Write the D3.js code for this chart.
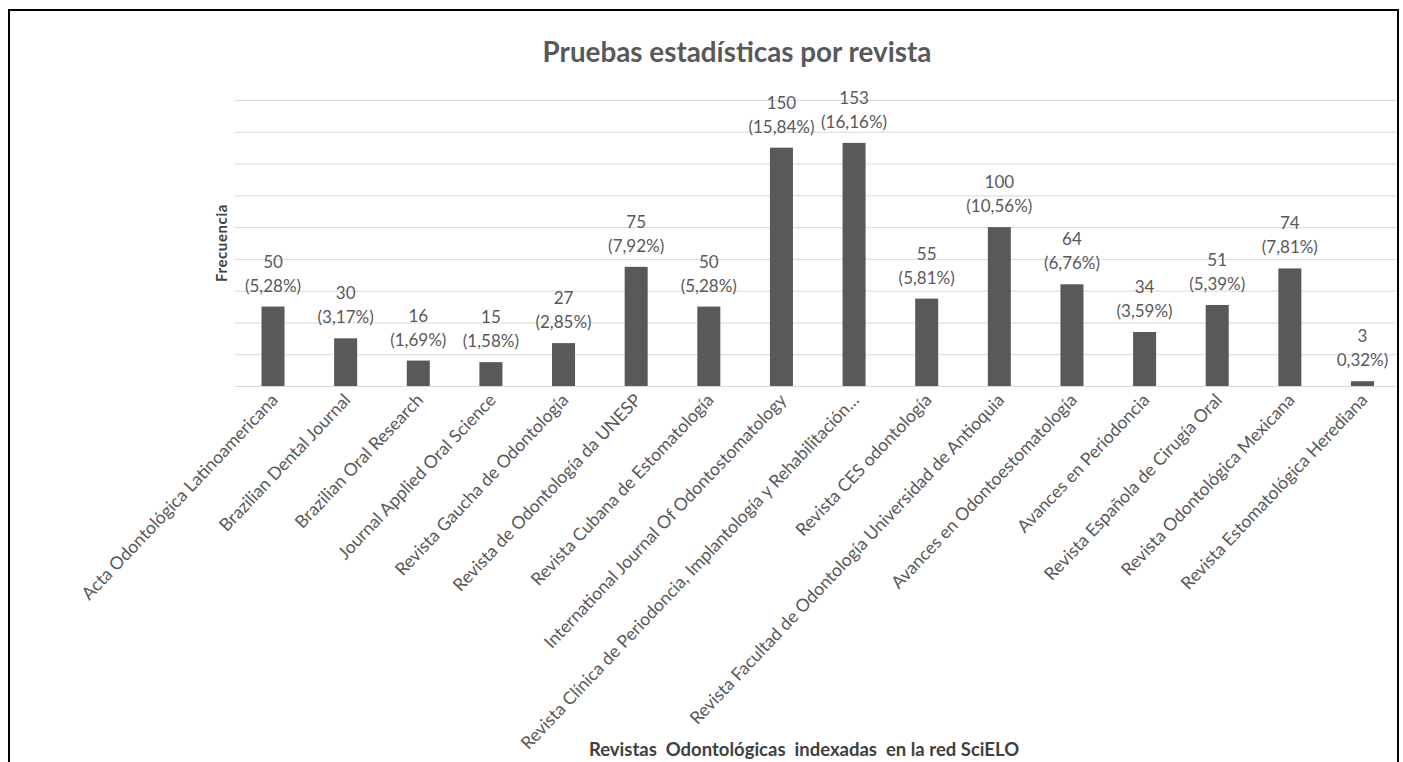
<!DOCTYPE html>
<html lang="es">
<head>
    <meta charset="UTF-8">
    <title>Pruebas estadísticas por revista</title>
    <script src="https://cdn.jsdelivr.net/npm/d3@7/dist/d3.min.js"></script>
    <style>
        body { margin: 0; background: #fff; }
        svg { display: block; font-family: Lato, "Open Sans", sans-serif; }
        .grid line { stroke: #d9d9d9; stroke-width: 1px; }
        .grid .domain { display: none; }
        .x-labels text { fill: #595959; font-size: 17.6px; }
        .bar { fill: #595959; }
        .val { fill: #595959; font-size: 17px; }
    </style>
</head>
<body>
    <svg width=1403 height=762></svg>
    <script>
        var revistas = [
            'Acta Odontológica Latinoamericana',
            'Brazilian Dental Journal',
            'Brazilian Oral Research',
            'Journal Applied Oral Science',
            'Revista Gaucha de Odontología',
            'Revista de Odontología da UNESP',
            'Revista Cubana de Estomatología',
            'International Journal Of Odontostomatology',
            'Revista Clínica de Periodoncia, Implantología y Rehabilitación…',
            'Revista CES odontología',
            'Revista Facultad de Odontología Universidad de Antioquia',
            'Avances en Odontoestomatología',
            'Avances en Periodoncia',
            'Revista Española de Cirugía Oral',
            'Revista Odontológica Mexicana',
            'Revista Estomatológica Herediana'
        ];
        var frecuencias = [50, 30, 16, 15, 27, 75, 50, 150, 153, 55, 100, 64, 34, 51, 74, 3];
        var porcentajes = ['(5,28%)', '(3,17%)', '(1,69%)', '(1,58%)', '(2,85%)', '(7,92%)', '(5,28%)', '(15,84%)',
            '(16,16%)', '(5,81%)', '(10,56%)', '(6,76%)', '(3,59%)', '(5,39%)', '(7,81%)', '0,32%)'];
        var gridTicks = [0, 20, 40, 60, 80, 100, 120, 140, 160, 180];

        var svg = d3.select('svg'),
            plot = { left: 235, right: 1396, top: 100, bottom: 386 },
            xScale = d3.scaleBand()
                .domain(revistas)
                .range([236.7, 1398.8])
                .paddingInner(0.683)
                .paddingOuter(0.3415),
            yScale = d3.scaleLinear().domain([0, 180]).range([plot.bottom, plot.top]);

        // frame
        svg.append('rect')
            .attr('x', 9).attr('y', 10)
            .attr('width', 1389).attr('height', 780)
            .attr('fill', '#fff')
            .attr('stroke', '#000')
            .attr('stroke-width', 2);

        // horizontal gridlines
        svg.append('g')
            .classed('grid', true)
            .attr('transform', 'translate(' + [plot.left, 0] + ')')
            .call(d3.axisLeft(yScale)
                .tickValues(gridTicks)
                .tickSize(-(plot.right - plot.left))
                .tickFormat(''));

        svg.append('text')
            .attr('x', 737).attr('y', 62)
            .attr('text-anchor', 'middle')
            .attr('fill', '#595959')
            .style('font-size', '27.8px')
            .style('font-weight', 'bold')
            .text('Pruebas estadísticas por revista');

        svg.selectAll('.bar')
            .data(frecuencias)
            .enter().append('rect')
            .classed('bar', true)
            .attr('x', function(d, i) { return xScale(revistas[i]); })
            .attr('width', xScale.bandwidth())
            .attr('y', function(d) { return yScale(d); })
            .attr('height', function(d) { return yScale(0) - yScale(d); });

        // value + percent labels
        var lbl = svg.append('g').selectAll('text')
            .data(frecuencias)
            .enter().append('text')
            .classed('val', true)
            .attr('text-anchor', 'middle');
        lbl.append('tspan')
            .attr('x', function(d, i) { return xScale(revistas[i]) + xScale.bandwidth() / 2; })
            .attr('y', function(d) { return yScale(d) - 39; })
            .text(function(d) { return d; });
        lbl.append('tspan')
            .attr('x', function(d, i) { return xScale(revistas[i]) + xScale.bandwidth() / 2; })
            .attr('y', function(d) { return yScale(d) - 15; })
            .text(function(d, i) { return porcentajes[i]; });

        // rotated category labels
        svg.append('g')
            .classed('x-labels', true)
            .selectAll('text')
            .data(revistas)
            .enter().append('text')
            .attr('text-anchor', 'end')
            .attr('transform', function(d) {
                var cx = xScale(d) + xScale.bandwidth() / 2;
                return 'translate(' + [cx + 6, 401] + ') rotate(-46.5)';
            })
            .text(function(d) { return d; });

        svg.append('text')
            .attr('transform', 'translate(227,243) rotate(-90)')
            .attr('text-anchor', 'middle')
            .attr('fill', '#404040')
            .style('font-size', '15px')
            .style('font-weight', 'bold')
            .style('letter-spacing', '0.6px')
            .text('Frecuencia');

        svg.append('text')
            .attr('x', 804).attr('y', 756)
            .attr('text-anchor', 'middle')
            .attr('fill', '#404040')
            .style('font-size', '18.5px')
            .style('font-weight', 'bold')
            .style('white-space', 'pre')
            .text('Revistas  Odontológicas  indexadas  en la red SciELO');
    </script>
</body>
</html>
